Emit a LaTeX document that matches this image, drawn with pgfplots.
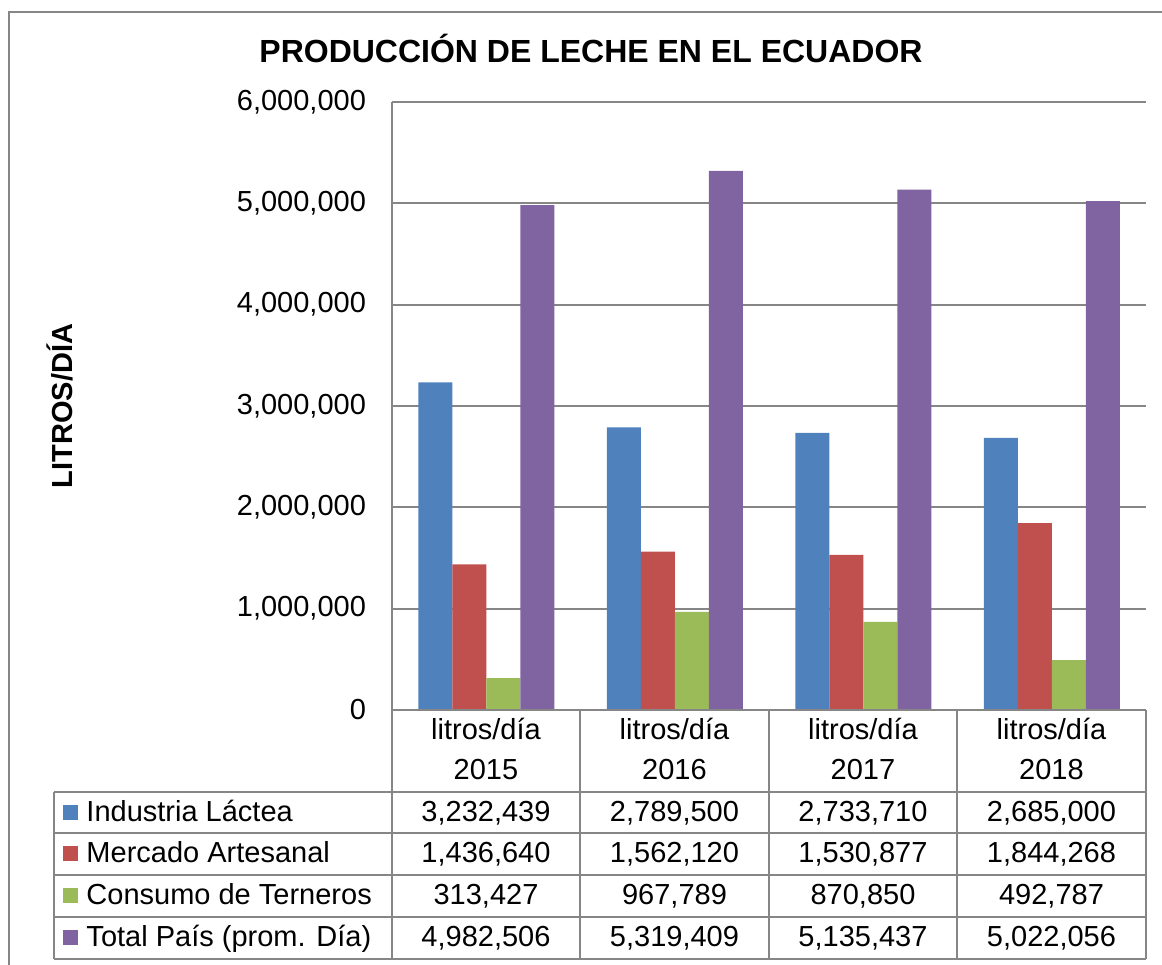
\documentclass[border=0pt]{standalone}
\usepackage{fontspec}
\setmainfont{Liberation Sans}
\usepackage{pgfplots}
\pgfplotsset{compat=1.18}

\definecolor{cBlue}{RGB}{79,129,189}
\definecolor{cRed}{RGB}{192,80,77}
\definecolor{cGreen}{RGB}{155,187,89}
\definecolor{cPurple}{RGB}{128,100,162}
\definecolor{lineGray}{RGB}{134,134,134}

\newcommand{\tabfont}{\fontsize{11.6}{13}\selectfont}

\begin{document}
\begin{tikzpicture}
% pixel grid of the reference: 1px = 0.4pt, origin at the axis' lower left corner
\begin{axis}[
    at={(0,0)}, anchor=south west,
    scale only axis,
    width=301.6pt, height=243.2pt,
    ybar=0pt, bar width=13.6pt,
    xmin=-0.5, xmax=3.5,
    ymin=0, ymax=6000000,
    xtick=\empty,
    ytick distance=1000000,
    scaled y ticks=false,
    axis x line=none,
    axis y line*=left,
    axis line style={lineGray, line width=0.8pt},
    major tick length=0pt,
    ymajorgrids=true,
    grid style={lineGray, line width=0.8pt},
    /pgf/number format/assume math mode=true,
    y tick label style={font=\tabfont, xshift=-6.9pt,
        /pgf/number format/fixed, /pgf/number format/1000 sep={,}},
]
\addplot[fill=cBlue, draw=none] coordinates {(0,3232439) (1,2789500) (2,2733710) (3,2685000)};
\addplot[fill=cRed, draw=none] coordinates {(0,1436640) (1,1562120) (2,1530877) (3,1844268)};
\addplot[fill=cGreen, draw=none] coordinates {(0,313427) (1,967789) (2,870850) (3,492787)};
\addplot[fill=cPurple, draw=none] coordinates {(0,4982506) (1,5319409) (2,5135437) (3,5022056)};
\end{axis}

\begin{scope}[x=0.4pt,y=-0.4pt,shift={(-156.8pt,284pt)},
    every node/.style={font=\tabfont, inner sep=0pt}]
  % chart frame
  \draw[lineGray, line width=0.8pt] (9,965) -- (9,12) -- (1162,12);
  % title and axis label
  \node[anchor=base, font=\fontsize{12.8}{15}\selectfont\bfseries] at (591,63)
      {PRODUCCIÓN DE LECHE EN EL ECUADOR};
  \node[rotate=90, font=\tabfont\bfseries] at (60,406) {LITROS/DÍA};
  % data table grid
  \begin{scope}[lineGray, line width=0.8pt]
    \draw (392,710) -- (1146,710);
    \foreach \y in {792,833,875,917,959} \draw (54,\y) -- (1146,\y);
    \foreach \x in {392,580,769,957,1146} \draw (\x,710) -- (\x,959);
    \draw (54,792) -- (54,959);
  \end{scope}
  % header row
  \foreach \x/\yr in {486/2015, 674.5/2016, 863/2017, 1051.5/2018} {
    \node[anchor=base] at (\x,740) {litros/día};
    \node[anchor=base] at (\x,780) {\yr};
  }
  % legend keys and series names
  \foreach \c/\name/\yb in {cBlue/Industria Láctea/822,
      cRed/Mercado Artesanal/863, cGreen/Consumo de Terneros/905,
      cPurple/Total País (prom. Día)/947} {
    \fill[\c] (63,\yb-17) rectangle (78,\yb-2);
    \node[anchor=base west] at (86,\yb) {\name};
  }
  % table values
  \foreach \yb/\a/\b/\c/\d in {
      822/{3,232,439}/{2,789,500}/{2,733,710}/{2,685,000},
      863/{1,436,640}/{1,562,120}/{1,530,877}/{1,844,268},
      905/{313,427}/{967,789}/{870,850}/{492,787},
      947/{4,982,506}/{5,319,409}/{5,135,437}/{5,022,056}} {
    \node[anchor=base] at (486,\yb) {\a};
    \node[anchor=base] at (674.5,\yb) {\b};
    \node[anchor=base] at (863,\yb) {\c};
    \node[anchor=base] at (1051.5,\yb) {\d};
  }
  \pgfresetboundingbox
  \useasboundingbox (0,0) rectangle (1162,965);
\end{scope}
\end{tikzpicture}
\end{document}
